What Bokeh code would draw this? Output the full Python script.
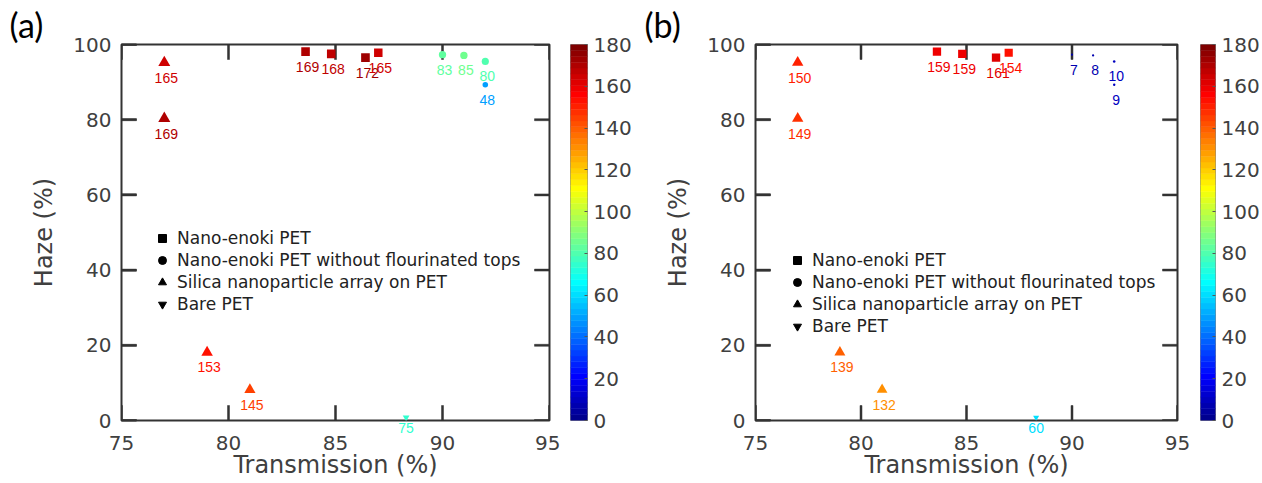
import numpy as np
from bokeh.plotting import figure
from bokeh.models import (ColumnDataSource, Label, Legend, LegendItem, LinearAxis,
                          FixedTicker, Range1d)
from bokeh.layouts import row
from bokeh.embed import file_html
from bokeh.resources import INLINE

# ---------------- data ----------------
enoki_T = [83.6, 84.8, 86.4, 87.0]
enoki_H = [98.1, 97.5, 96.5, 97.8]
noflu_T = [90.0, 91.0, 92.0, 92.0]
noflu_H = [97.3, 97.1, 95.5, 89.3]
silica_T = [77.0, 77.0, 79.0, 81.0]
silica_H = [95.2, 80.3, 18.1, 8.2]
bare_T = [88.3]
bare_H = [0.8]

a_enoki = [169, 168, 172, 165]
a_noflu = [83, 85, 80, 48]
a_silica = [165, 169, 153, 145]
a_bare = [75]

b_enoki = [159, 159, 161, 154]
b_noflu = [7, 8, 10, 9]
b_silica = [150, 149, 139, 132]
b_bare = [60]

x_ticks = [75, 80, 85, 90, 95]
y_ticks = [0, 20, 40, 60, 80, 100]
cbar_ticks = [0, 20, 40, 60, 80, 100, 120, 140, 160, 180]
legend_labels = ["Nano-enoki PET", "Nano-enoki PET without flourinated tops",
                 "Silica nanoparticle array on PET", "Bare PET"]
X_MIN, X_MAX = 75, 95
Y_MIN, Y_MAX = 0, 100
CMAX = 180

H_FIG = 483
B_TOP, B_BOT = 44, 63
FRAME_H = H_FIG - B_TOP - B_BOT
TICK_PX = 15      # tick length
TICK_W = 2        # tick thickness

AX = "#333333"
TXT = "#404040"


def jet_map(m=64):
    n = int(np.ceil(m / 4))
    u = np.concatenate([np.arange(1, n + 1) / n, np.ones(n - 1), np.arange(n, 0, -1) / n])
    g = int(np.ceil(n / 2)) - (1 if m % 4 == 1 else 0) + np.arange(1, len(u) + 1)
    r = g + n
    b = g - n
    J = np.zeros((m, 3))
    for idx, col in ((r, 0), (g, 1), (b, 2)):
        mask = (idx >= 1) & (idx <= m)
        J[idx[mask] - 1, col] = u[mask]
    return ["#%02x%02x%02x" % tuple(int(round(c * 255)) for c in rw) for rw in J]


JET = jet_map(64)


def cmap(v):
    i = min(len(JET) - 1, int(v / CMAX * len(JET)))
    return JET[i]


def style_axis(ax, ticks, label, standoff):
    ax.ticker = FixedTicker(ticks=ticks)
    ax.axis_line_color = None
    ax.major_tick_in = TICK_PX
    ax.major_tick_out = 0
    ax.major_tick_line_color = AX
    ax.major_tick_line_width = TICK_W
    ax.minor_tick_line_color = None
    ax.major_label_text_font = "DejaVu Sans"
    ax.major_label_text_font_size = "20px"
    ax.major_label_text_color = TXT
    ax.axis_label = label
    ax.axis_label_standoff = standoff
    ax.axis_label_text_font = "DejaVu Sans"
    ax.axis_label_text_font_size = "24px"
    ax.axis_label_text_font_style = "normal"
    ax.axis_label_text_color = TXT


def tick_source(frame_w):
    """Thin bars for the inward ticks on all four edges of the box."""
    ly = TICK_PX / FRAME_H * (Y_MAX - Y_MIN)
    lx = TICK_PX / frame_w * (X_MAX - X_MIN)
    hx = TICK_W / 2 / frame_w * (X_MAX - X_MIN)
    hy = TICK_W / 2 / FRAME_H * (Y_MAX - Y_MIN)
    L, R, B, T = [], [], [], []
    for t in x_ticks:
        L += [t - hx, t - hx]
        R += [t + hx, t + hx]
        B += [Y_MIN, Y_MAX - ly]
        T += [Y_MIN + ly, Y_MAX]
    for t in y_ticks:
        L += [X_MIN, X_MAX - lx]
        R += [X_MIN + lx, X_MAX]
        B += [t - hy, t - hy]
        T += [t + hy, t + hy]
    return ColumnDataSource(dict(left=L, right=R, bottom=B, top=T, c=[AX] * len(L)))


def panel(vals, tag, width, bl, br, legend_xy, tag_off):
    ve, vn, vs, vb = vals
    frame_w = width - bl - br
    p = figure(width=width, height=H_FIG, x_range=Range1d(X_MIN, X_MAX),
               y_range=Range1d(Y_MIN, Y_MAX), x_axis_location=None,
               output_backend="svg", toolbar_location=None, title=tag,
               min_border_left=bl, min_border_right=br,
               min_border_top=B_TOP, min_border_bottom=B_BOT)
    p.title.align = "left"
    p.title.offset = tag_off
    p.title.text_font = "Lato"
    p.title.text_font_size = "34px"
    p.title.text_font_style = "normal"
    p.title.text_color = "black"
    p.title.standoff = 0
    p.xgrid.visible = False
    p.ygrid.visible = False
    p.outline_line_color = AX
    p.outline_line_width = 2

    # label of the bare-PET point sits just under the box: an axis row of its own
    bare_ax = LinearAxis(ticker=FixedTicker(ticks=bare_T),
                         major_label_overrides={t: str(v) for t, v in zip(bare_T, vb)})
    bare_ax.axis_line_color = None
    bare_ax.major_tick_line_color = None
    bare_ax.major_tick_in = 0
    bare_ax.major_tick_out = 0
    bare_ax.minor_tick_line_color = None
    bare_ax.major_label_text_font = "Liberation Sans"
    bare_ax.major_label_text_font_size = "14px"
    bare_ax.major_label_text_color = cmap(vb[0])
    bare_ax.major_label_standoff = 2
    p.add_layout(bare_ax, "below")

    xax = LinearAxis()
    style_axis(xax, x_ticks, "Transmission (%)", -2)
    xax.major_tick_in = 0
    xax.major_tick_line_color = None
    xax.major_label_standoff = 0
    p.add_layout(xax, "below")

    style_axis(p.yaxis[0], y_ticks, "Haze (%)", 12)
    p.yaxis[0].major_label_standoff = 10

    # inward ticks drawn as thin filled bars from a source
    p.quad(left="left", right="right", bottom="bottom", top="top",
           source=tick_source(frame_w), fill_color="c", line_color="c", line_width=0.5)

    groups = [
        (enoki_T, enoki_H, ve, "square", 0.66),
        (noflu_T, noflu_H, vn, "circle", 0.80),
        (silica_T, silica_H, vs, "triangle", 0.93),
        (bare_T, bare_H, vb, "inverted_triangle", 0.78),
    ]
    legend_items = []
    for gi, ((T, H, V, mk, k), lab) in enumerate(zip(groups, legend_labels)):
        src = ColumnDataSource(dict(x=T, y=H, c=[cmap(v) for v in V],
                                    s=[k * np.sqrt(v) for v in V]))
        p.scatter("x", "y", source=src, marker=mk, size="s", fill_color="c", line_color=None)
        if gi < 3:
            for xi, yi, vi in zip(T, H, V):
                p.add_layout(Label(x=xi, y=yi, text=str(vi), text_color=cmap(vi),
                                   x_offset=2, y_offset=-15, text_align="center",
                                   text_baseline="middle", text_font="Liberation Sans",
                                   text_font_size="14px"))
        dummy = ColumnDataSource(dict(x=[np.nan], y=[np.nan]))
        r = p.scatter("x", "y", source=dummy, marker=mk, fill_color="black", line_color="black")
        legend_items.append(LegendItem(label=lab, renderers=[r]))

    leg = Legend(items=legend_items, location=legend_xy, glyph_width=20, glyph_height=20,
                 label_standoff=5, spacing=2, padding=0, margin=0,
                 label_text_font="DejaVu Sans", label_text_font_size="17px",
                 label_text_color="#222222", border_line_color=None,
                 background_fill_alpha=0)
    p.add_layout(leg)
    return p


def colorbar(width, bl, br):
    c = figure(width=width, height=H_FIG, x_range=Range1d(0, 1), y_range=Range1d(0, CMAX),
               output_backend="svg", toolbar_location=None,
               x_axis_location=None, y_axis_location="right",
               min_border_left=bl, min_border_right=br,
               min_border_top=B_TOP, min_border_bottom=B_BOT)
    c.grid.visible = False
    step = CMAX / len(JET)
    lows = np.arange(len(JET)) * step
    c.quad(left=0, right=1, bottom=lows, top=lows + step, fill_color=JET, line_color=JET,
           line_width=0.5)
    ax = c.yaxis[0]
    ax.ticker = FixedTicker(ticks=cbar_ticks)
    ax.axis_line_color = None
    ax.major_tick_in = 3
    ax.major_tick_out = 0
    ax.major_tick_line_color = "#555555"
    ax.minor_tick_line_color = None
    ax.major_label_text_font = "DejaVu Sans"
    ax.major_label_text_font_size = "20px"
    ax.major_label_text_color = TXT
    ax.major_label_standoff = 6
    c.outline_line_color = "#8a8a8a"
    c.outline_line_width = 1
    return c


pa = panel((a_enoki, a_noflu, a_silica, a_bare), "(a)", 560, 121, 11, (31, 106), -112)
ca = colorbar(80, 10, 53)
pb = panel((b_enoki, b_noflu, b_silica, b_bare), "(b)", 560, 115, 23, (32, 84), -111)
cb = colorbar(62, 0, 45)

layout = row(pa, ca, pb, cb)
open("out.html", "w").write(file_html(layout, INLINE))
